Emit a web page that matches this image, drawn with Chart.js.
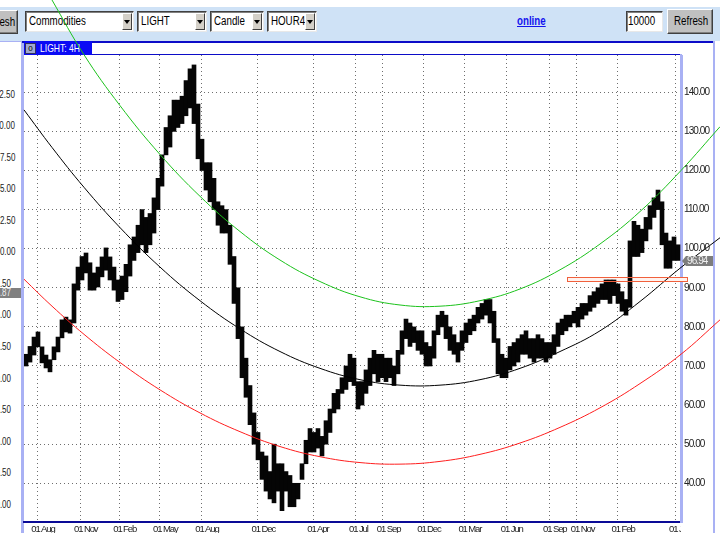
<!DOCTYPE html>
<html>
<head>
<meta charset="utf-8">
<title>LIGHT: 4H</title>
<script src="https://cdn.jsdelivr.net/npm/chart.js@4.4.1/dist/chart.umd.min.js"></script>
<style>
    html, body { margin: 0; padding: 0; }
    body {
        width: 720px; height: 533px; overflow: hidden; position: relative; background: #fff;
        font-family: 'Liberation Sans', Arial, sans-serif; color: #000;
    }
    .abs { position: absolute; }
    .t { display: inline-block; transform: scaleX(0.78); transform-origin: 0 50%; white-space: nowrap; }
    #toolbar { left: 0; top: 7px; width: 720px; height: 34px; background: #cfe2f6; }
    .btn {
        position: absolute; box-sizing: border-box; background: #c0c0c0; overflow: hidden;
        border: 1px solid; border-color: #fff #404040 #404040 #fff; box-shadow: inset -1px -1px 0 #808080;
        font-size: 12.5px; line-height: 22px; white-space: nowrap;
    }
    .sel {
        position: absolute; box-sizing: border-box; top: 11px; height: 21px; background: #fff; overflow: hidden;
        border: 1px solid; border-color: #404040 #e8e8e8 #e8e8e8 #404040; box-shadow: inset 1px 1px 0 #808080;
        font-size: 12.5px; line-height: 19px; padding-left: 3px; white-space: nowrap;
    }
    .sel .arr {
        position: absolute; right: 1px; top: 1px; width: 10px; height: 17px; box-sizing: border-box;
        background: #d4d0c8; border: 1px solid; border-color: #fff #404040 #404040 #fff;
    }
    .sel .arr:after {
        content: ''; position: absolute; left: 1px; top: 6px;
        border-left: 3px solid transparent; border-right: 3px solid transparent; border-top: 4px solid #000;
    }
    #online { left: 517px; top: 14px; font-size: 12.5px; font-weight: bold; color: #1414ee; }
    #online .t { text-decoration: underline; }
    .lav { background: #a9b1f4; }
    .navy { background: #0c0cc8; }
    #title {
        left: 24px; top: 41px; width: 68px; height: 14px; background: #0a0af5; color: #fff;
        font-size: 11px; line-height: 14px;
    }
    #title .t { position: absolute; left: 16px; top: 0; }
    #title i {
        position: absolute; left: 1px; top: 2px; width: 9px; height: 9px; background: #a0a8d0;
        border: 1px solid #303060; font-style: normal; font-size: 8px; line-height: 9px; text-align: center; color: #000;
    }
    .lt {
        position: absolute; left: -9px; font-size: 10px; line-height: 10px; color: #222; white-space: nowrap;
        transform: scaleX(0.8); transform-origin: 0 50%;
    }
    #leftMark { left: 0; width: 21px; height: 10px; background: #808080; overflow: hidden; }
    #leftMark .lt { top: 0; color: #eee; }
    #chart { position: absolute; left: 0; top: 0; z-index: 2; pointer-events: none; }
    #labelClip { left: 681px; top: 523px; width: 32px; height: 10px; background: #fff; z-index: 3; }
</style>
</head>
<body>
<div id="toolbar" class="abs"></div>
<div class="btn" style="left:-27px;top:10px;width:45px;height:24px;padding-left:7px;"><span class="t">Refresh</span></div>
<div class="sel" style="left:25px;width:109px;"><span class="t">Commodities</span><span class="arr"></span></div>
<div class="sel" style="left:137px;width:70px;"><span class="t">LIGHT</span><span class="arr"></span></div>
<div class="sel" style="left:210px;width:54px;"><span class="t">Candle</span><span class="arr"></span></div>
<div class="sel" style="left:267px;width:50px;"><span class="t">HOUR4</span><span class="arr"></span></div>
<div id="online" class="abs"><span class="t">online</span></div>
<div class="sel" style="left:626px;width:37px;padding-left:1px;"><span class="t">10000</span></div>
<div class="btn" style="left:667px;top:9px;width:46px;height:25px;line-height:23px;padding-left:6px;"><span class="t">Refresh</span></div>

<div id="leftPane" class="abs" style="left:0;top:41px;width:21px;height:492px;overflow:hidden;"></div>
<div class="abs lav" style="left:0;top:41px;width:22px;height:1px;"></div>
<div class="abs lav" style="left:21px;top:41px;width:3px;height:492px;"></div>
<div class="abs navy" style="left:22px;top:41px;width:692px;height:2px;"></div>
<div class="abs navy" style="left:24px;top:54px;width:658px;height:1px;"></div>
<div id="title" class="abs"><i>0</i><span class="t">LIGHT: 4H</span></div>
<div class="abs lav" style="left:681px;top:55px;width:2px;height:468px;"></div>
<div class="abs lav" style="left:713px;top:41px;width:2px;height:492px;"></div>
<div id="labelClip" class="abs"></div>

<canvas id="chart" width="720" height="533"></canvas>

<script>
// price axis (right) and date axis (bottom)
var priceTicks = [40, 50, 60, 70, 80, 90, 100, 110, 120, 130, 140];
var dateTickAt = [2.8, 13.5, 23.3, 33.25, 43.8, 57.9, 71.8, 82.25, 89.2, 99.3, 109.6, 120.2, 130.75, 137.7, 147.9, 162.25];
var dateTickText = ['01 Aug', '01 Nov', '01 Feb', '01 May', '01 Aug', '01 Dec', '01 Apr', '01 Jul',
    '01 Sep', '01 Dec', '01 Mar', '01 Jun', '01 Sep', '01 Nov', '01 Feb', '01 Jun'];

// LIGHT 4H price range, one [low, high] per sample step
var barLow = [
    70, 71, 72.8, 74.9, 70.8, 69.5, 68.5, 71.6, 73.6, 77.2,
    78.7, 78.4, 81, 89.4, 92, 93.8, 89.4, 89.4, 90.2, 92.8,
    94.5, 92, 89.4, 86.5, 87, 89, 93, 97, 99, 101,
    99, 101, 104, 110, 116, 124, 126, 130, 131, 132,
    134, 136, 132, 123, 120, 115, 112, 110, 106, 104,
    104, 96, 86, 77, 67, 62, 55, 50, 46, 41,
    38, 36, 35, 38, 33, 38, 34, 34, 36, 41,
    45, 48, 48, 49, 47, 50, 53, 58, 59, 63,
    64, 66, 65, 59, 60, 63, 65, 68, 66, 67,
    66, 67, 65, 68, 73, 77, 75, 76, 74, 73,
    70, 70, 72, 78, 80, 77, 74, 73, 71, 74,
    76, 78, 79, 81, 82, 83, 81, 76, 68, 67,
    67, 69, 70, 71, 73, 73, 72, 71, 72, 72,
    71, 72, 73, 75, 78, 79, 80, 81, 80, 82,
    83, 84, 85, 86, 87, 87, 86, 88, 86, 84,
    83, 85, 98, 98, 99, 102, 105, 108, 110, 101,
    95, 95, 97, 97
];
var barHigh = [
    73, 75, 77.4, 78.7, 74.9, 72.8, 71.6, 74.9, 77.4, 81.8,
    82.5, 81.8, 91, 95.3, 98, 98.9, 96.4, 93.8, 95.3, 97.9,
    100.2, 97.9, 95.3, 92, 93, 96, 101, 103, 106, 110,
    108, 109, 113, 118, 124, 131, 134, 138, 138, 139,
    143, 146, 147, 137, 128, 122, 122, 118, 112, 111,
    110, 106, 98, 90, 80, 72, 65, 58, 53, 48,
    47, 43, 50, 45, 45, 43, 42, 40, 40, 45,
    51, 54, 53, 54, 52, 56, 59, 63, 64, 67,
    70, 73, 72, 66, 66, 69, 72, 74, 73, 73,
    72, 72, 70, 74, 79, 82, 81, 80, 79, 79,
    76, 75, 79, 83, 84, 83, 80, 78, 76, 79,
    81, 82, 83, 85, 86, 87, 87, 84, 77, 73,
    72, 75, 76, 77, 78, 79, 77, 77, 78, 77,
    76, 76, 78, 81, 82, 83, 83, 84, 85, 86,
    86, 88, 89, 90, 91, 92, 92, 92, 91, 89,
    87, 102, 107, 106, 105, 108, 111, 113, 115, 112,
    104, 102, 103, 101
];

// channel curves, read at these sample positions
var curveAt = [-0.5, 6.5, 14.5, 23.5, 33.5, 43.5, 53.5, 63.5, 73.5, 83.5, 93.5, 103.5, 113.5, 123.5, 133.5, 143.5, 153.5, 163.75, 173.5];
var greenCurve = [176, 163.6, 149.6, 136.6, 124.1, 113.4, 104.4, 97.1, 91.6, 87.7, 85.6, 85.3, 86.7, 89.7, 94.6, 101.2, 109.5, 120, 131.2];
var blackCurve = [135.5, 125.9, 115.7, 105.4, 95.3, 86.7, 79.5, 73.7, 69.4, 66.5, 65.1, 65.1, 66.5, 69.4, 73.7, 79, 86.5, 95.2, 102.8];
var redCurve = [92.2, 85.3, 78.1, 70.9, 63.9, 58, 53.2, 49.4, 46.8, 45.3, 44.9, 45.6, 47.4, 50.3, 54.3, 59.3, 65.5, 73, 81.8];

// zone box and last-price markers
var zoneFrom = 135.25, zoneTo = 165.25, zoneLow = 91.66, zoneHigh = 92.76;
var lastPrice = 96.94;
var leftPaneTicks = [112.5, 110, 107.5, 105, 102.5, 100, 97.5, 95, 92.5, 90, 87.5, 85, 82.5, 80];
var leftPaneLast = 96.87;

(function () {
    'use strict';

    var labelFont = "'Liberation Sans', Arial, sans-serif";

    // partly hidden price axis of the pane on the left
    var pane = document.getElementById('leftPane');
    leftPaneTicks.forEach(function (v) {
        var el = document.createElement('div');
        el.className = 'lt';
        el.style.top = (252.3 + (100 - v) * 12.62 - 41 - 5) + 'px';
        el.textContent = v.toFixed(2);
        pane.appendChild(el);
    });
    var mark = document.createElement('div');
    mark.id = 'leftMark';
    mark.className = 'abs';
    mark.style.top = (252.3 + (100 - leftPaneLast) * 12.62 - 41 - 4) + 'px';
    mark.innerHTML = '<span class="lt">' + leftPaneLast.toFixed(2) + '</span>';
    pane.appendChild(mark);

    function points(xs, ys) {
        return xs.map(function (x, i) {
            return { x: x, y: ys[i] };
        });
    }

    var bars = barLow.map(function (lo, i) {
        return { x: i, y: [lo, barHigh[i]] };
    });

    function curve(label, values, color) {
        return {
            type: 'line',
            label: label,
            data: points(curveAt, values),
            borderColor: color,
            borderWidth: 1,
            pointRadius: 0,
            tension: 0.4,
            clip: false,
            order: 1
        };
    }

    function zoneBox(chart) {
        var x = chart.scales.x;
        var y = chart.scales.y;
        var l = Math.round(x.getPixelForValue(zoneFrom));
        var r = Math.round(x.getPixelForValue(zoneTo));
        var t = Math.round(y.getPixelForValue(zoneHigh));
        var b = Math.round(y.getPixelForValue(zoneLow));
        return { l: l, t: t, w: r - l, h: b - t };
    }

    function setSpacing(ctx, px) {
        // the platform uses a tight, narrow label face
        if ('letterSpacing' in ctx) {
            ctx.letterSpacing = px + 'px';
        }
    }

    var overlay = {
        id: 'overlay',
        beforeDraw: function (chart) {
            setSpacing(chart.ctx, -1.1);
        },
        beforeDatasetsDraw: function (chart) {
            var ctx = chart.ctx;
            var z = zoneBox(chart);
            ctx.save();
            ctx.fillStyle = '#fff2ee';
            ctx.fillRect(z.l, z.t, z.w, z.h);
            ctx.restore();
        },
        afterDatasetsDraw: function (chart) {
            var ctx = chart.ctx;
            var z = zoneBox(chart);
            ctx.save();
            ctx.strokeStyle = '#f0603c';
            ctx.lineWidth = 1;
            ctx.strokeRect(z.l + 0.5, z.t + 0.5, z.w, z.h);
            ctx.restore();
            // price labels are drawn after this hook (ticks.z = 1)
            setSpacing(ctx, -0.9);
        },
        afterDraw: function (chart) {
            var ctx = chart.ctx;
            var py = Math.round(chart.scales.y.getPixelForValue(lastPrice));
            var ax = chart.chartArea.right + 1;
            ctx.save();
            ctx.fillStyle = '#7d7d7d';
            ctx.beginPath();
            ctx.moveTo(ax, py);
            ctx.lineTo(ax + 4, py - 5);
            ctx.lineTo(ax + 31, py - 5);
            ctx.lineTo(ax + 31, py + 5);
            ctx.lineTo(ax + 4, py + 5);
            ctx.closePath();
            ctx.fill();
            ctx.fillStyle = '#f0f0f0';
            ctx.font = '10px ' + labelFont;
            ctx.textBaseline = 'middle';
            ctx.fillText(lastPrice.toFixed(2), ax + 5, py + 0.5);
            ctx.restore();
            setSpacing(ctx, 0);
        }
    };

    Chart.defaults.font.family = labelFont;

    new Chart(document.getElementById('chart'), {
        type: 'bar',
        data: {
            datasets: [
                curve('upper', greenCurve, '#1cc21c'),
                curve('middle', blackCurve, '#000000'),
                curve('lower', redCurve, '#ff1e1e'),
                {
                    type: 'bar',
                    label: 'LIGHT: 4H',
                    data: bars,
                    backgroundColor: '#050505',
                    borderWidth: 0,
                    barThickness: 4,
                    order: 2
                }
            ]
        },
        options: {
            responsive: false,
            animation: false,
            events: [],
            devicePixelRatio: 1,
            layout: {
                autoPadding: false,
                padding: { left: 24, top: 55, right: 7, bottom: 0 }
            },
            plugins: {
                legend: { display: false },
                tooltip: { enabled: false }
            },
            scales: {
                x: {
                    type: 'linear',
                    offset: false,
                    bounds: 'data',
                    afterDataLimits: function (scale) {
                        scale.min = -0.5;
                        scale.max = 163.75;
                    },
                    afterBuildTicks: function (scale) {
                        scale.ticks = dateTickAt.map(function (v) {
                            return { value: v };
                        });
                    },
                    afterFit: function (scale) {
                        scale.height = 11;
                    },
                    grid: { color: '#6e6e6e', drawTicks: false, offset: false },
                    border: { color: '#0a0a96', width: 2, dash: [1, 3] },
                    ticks: {
                        autoSkip: false,
                        maxRotation: 0,
                        align: 'start',
                        labelOffset: -6,
                        padding: 2,
                        color: '#222',
                        font: { size: 9.5 },
                        callback: function (value, index) {
                            return dateTickText[index];
                        }
                    }
                },
                y: {
                    position: 'right',
                    min: 30.1,
                    max: 149.54,
                    beginAtZero: false,
                    afterBuildTicks: function (scale) {
                        scale.ticks = priceTicks.map(function (v) {
                            return { value: v };
                        });
                    },
                    afterFit: function (scale) {
                        scale.width = 32;
                    },
                    grid: { color: '#6e6e6e', drawTicks: false },
                    border: { color: '#a9b1f4', width: 2, dash: [1, 3] },
                    ticks: {
                        z: 1,
                        padding: 3,
                        color: '#222',
                        font: { size: 10 },
                        callback: function (value) {
                            return Number(value).toFixed(2);
                        }
                    }
                }
            }
        },
        plugins: [overlay]
    });
})();
</script>
</body>
</html>
